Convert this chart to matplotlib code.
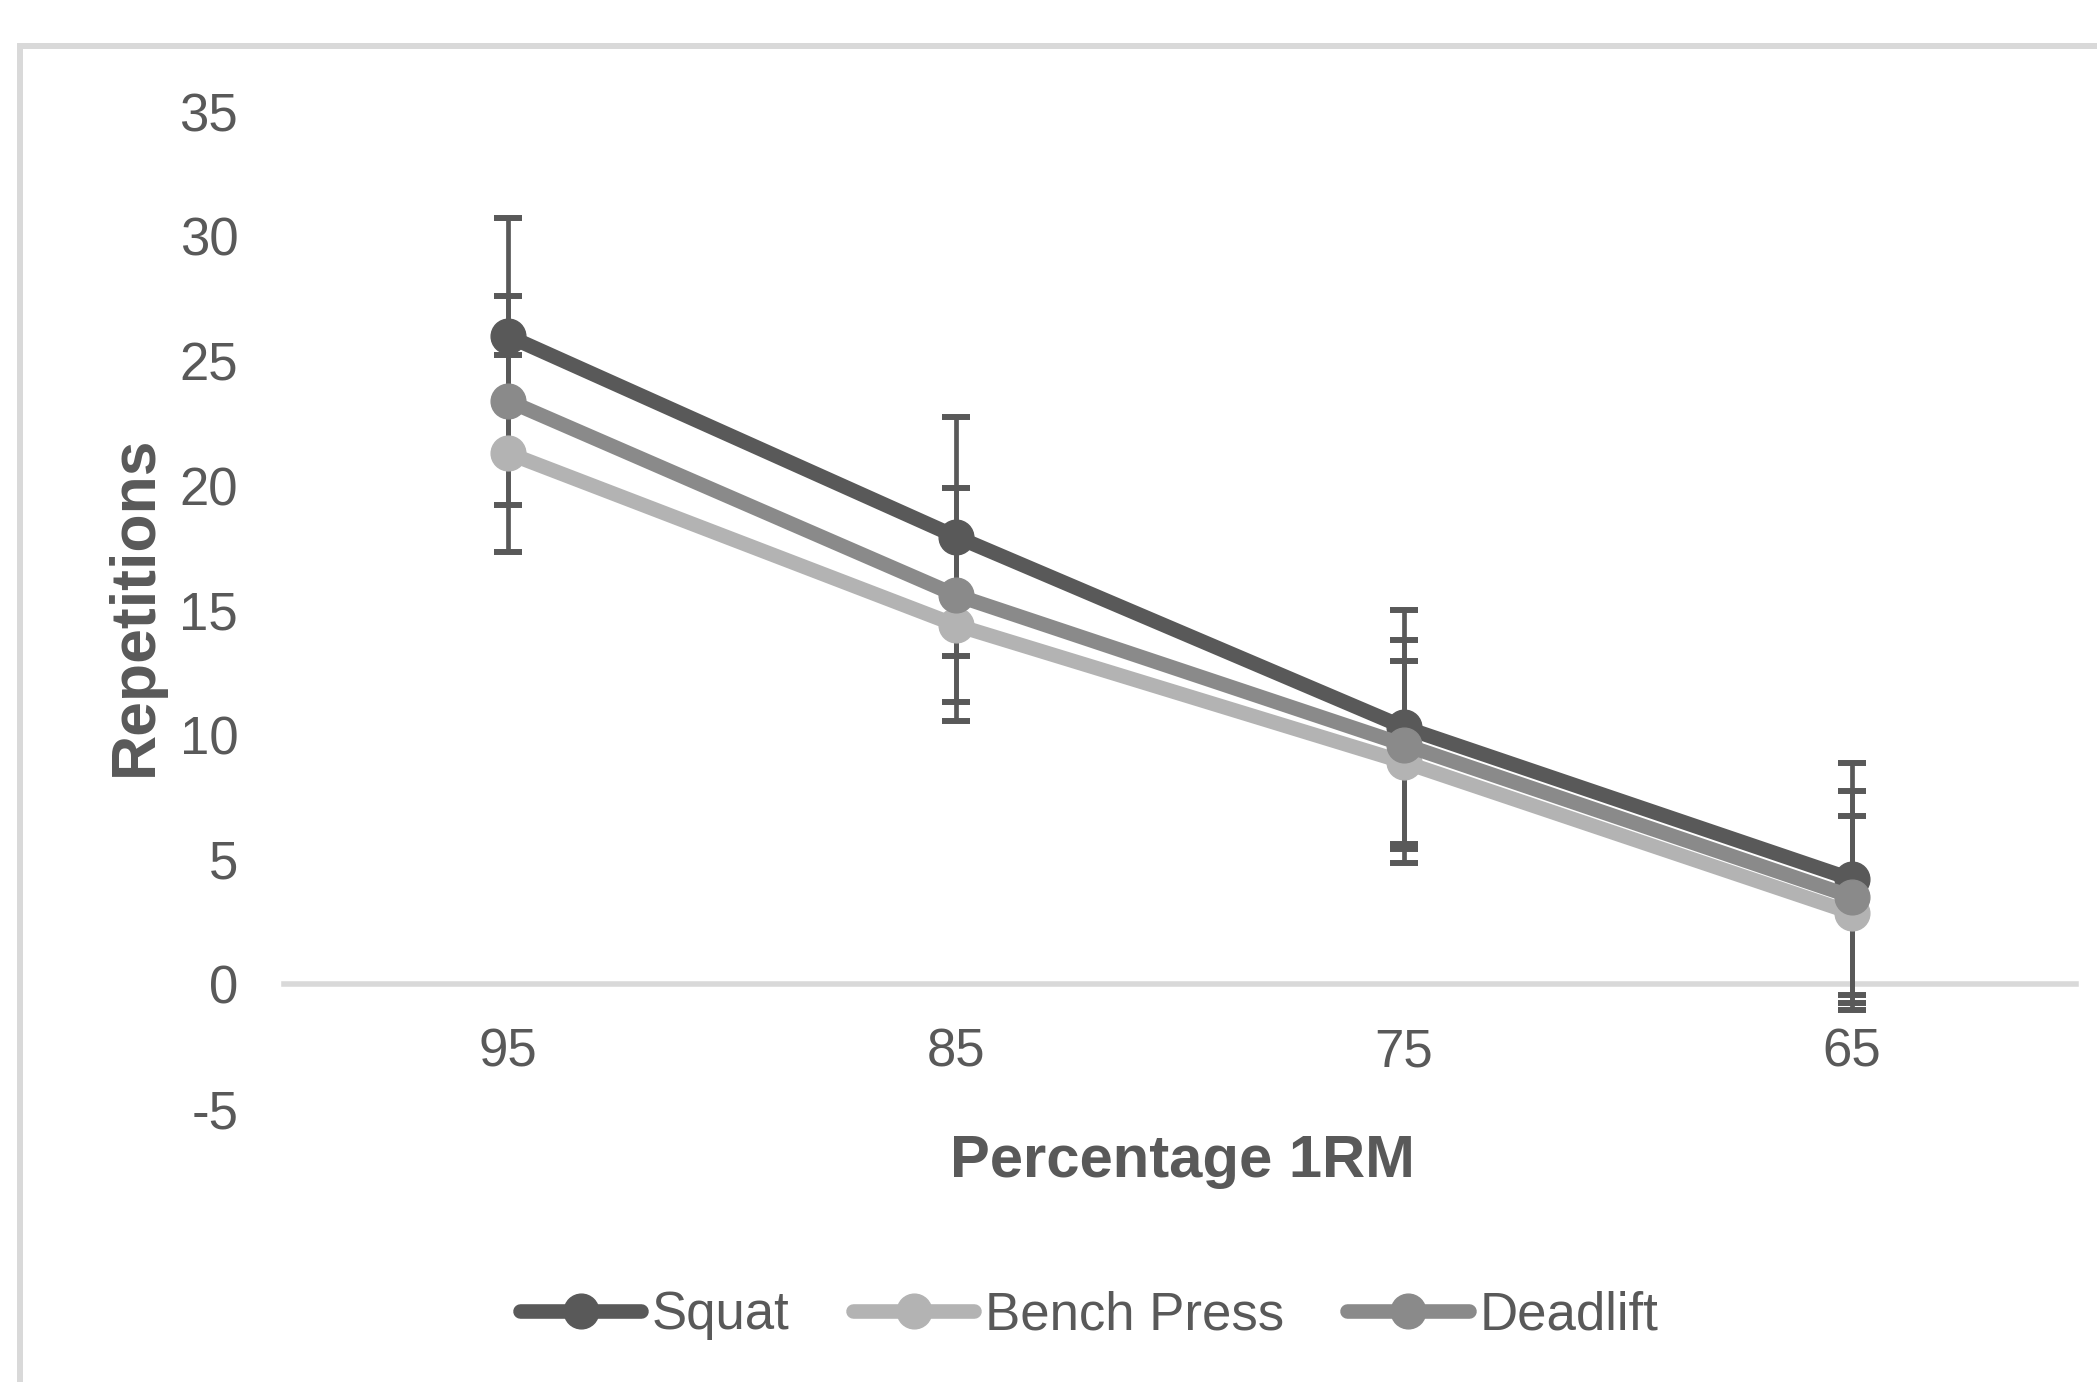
import numpy as np
import matplotlib
matplotlib.use('Agg')
import matplotlib.pyplot as plt
from matplotlib.patches import Rectangle

plt.rcParams['font.family'] = ['Liberation Sans', 'DejaVu Sans']
plt.rcParams['axes.unicode_minus'] = False

# data
pct_1rm = ['95', '85', '75', '65']
squat = [26.0, 17.95, 10.3, 4.2]
squat_sd = [4.75, 4.8, 4.7, 4.65]
bench = [21.3, 14.4, 8.9, 2.85]
bench_sd = [3.95, 3.85, 4.05, 3.9]
deadlift = [23.4, 15.6, 9.6, 3.5]
deadlift_sd = [4.2, 4.3, 4.2, 4.25]

names = ['Squat', 'Bench Press', 'Deadlift']
colors = ['#595959', '#b3b3b3', '#8a8a8a']
txt = '#595959'

W, H = 2097, 1382
fig = plt.figure(figsize=(W / 100, H / 100), dpi=100)

# light grey chart border (cropped on right/bottom)
fig.add_artist(Rectangle((20 / W, -0.2), 1.5, 1.2 - 46 / H, transform=fig.transFigure,
                         fill=False, edgecolor='#d9d9d9', linewidth=4.3))

ax = fig.add_axes([284 / W, 1 - 1108.6 / H, 1792 / W, (1108.6 - 111.7) / H])
x = np.arange(len(pct_1rm))

# error bars sit under the lines
for vals, sd in [(squat, squat_sd), (bench, bench_sd), (deadlift, deadlift_sd)]:
    ax.errorbar(x, vals, yerr=sd, fmt='none', ecolor='#595959', elinewidth=3.4,
                capsize=10, capthick=4.3, zorder=1)

for vals, name, c in zip([squat, bench, deadlift], names, colors):
    ax.plot(x, vals, color=c, lw=10.5, marker='o', markersize=25, label=name,
            solid_capstyle='round', zorder=3)

ax.set_xlim(-0.5, 3.5)
ax.set_ylim(-5, 35)
ax.set_yticks(range(-5, 36, 5))
ax.set_xticks(x)
ax.set_xticklabels(pct_1rm)
for s in ['top', 'right', 'left']:
    ax.spines[s].set_visible(False)
ax.spines['bottom'].set_position(('data', 0))
ax.spines['bottom'].set_color('#d9d9d9')
ax.spines['bottom'].set_linewidth(4)
ax.spines['bottom'].set_zorder(0)
ax.tick_params(axis='y', length=0, pad=33, labelsize=38, labelcolor=txt)
ax.tick_params(axis='x', length=0, pad=31, labelsize=38, labelcolor=txt)

fig.text(1182 / W, 1 - 1177 / H, 'Percentage 1RM', ha='center', va='baseline',
         fontsize=43, fontweight='bold', color=txt)
fig.text(152 / W, 1 - 606 / H, 'Repetitions', ha='center', va='baseline',
         rotation=90, rotation_mode='anchor', fontsize=45, fontweight='bold', color=txt)

leg = fig.legend(loc='center', bbox_to_anchor=(1089 / W, 1 - 1315 / H), ncol=3,
                 frameon=False, fontsize=38, handlelength=2.3, handletextpad=0.2,
                 columnspacing=1.2, labelcolor=txt)

fig.savefig('out.png', dpi=100)
